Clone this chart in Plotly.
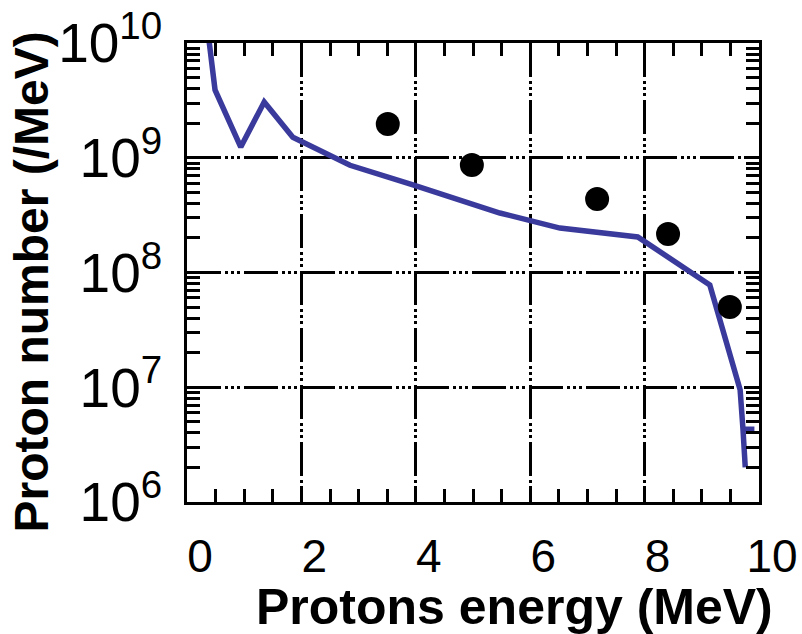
import plotly.graph_objects as go

# Simulated spectrum (blue line)
sim_energy = [0.38, 0.49, 0.94, 1.35, 1.85, 2.85, 3.95, 5.47, 6.52, 7.88, 9.14, 9.67, 9.72, 9.92, 9.72, 9.76]
sim_number = [1.1e10, 3.9e9, 1.24e9, 3.06e9, 1.51e9, 8.6e8, 5.8e8, 3.3e8, 2.44e8, 2.04e8, 7.8e7, 9.5e6, 4.3e6, 4.3e6, 4.3e6, 2.0e6]

# Measured points (black dots)
exp_energy = [3.51, 4.98, 7.17, 8.41, 9.49]
exp_number = [1.97e9, 8.65e8, 4.37e8, 2.17e8, 5.0e7]

x_range = [0, 10]
x_tick_step = 2
x_minor_step = 0.5
y_range_log = [6, 10]

x_title = "Protons energy (MeV)"
y_title = "Proton number (/MeV)"

FONT = "Liberation Sans, Arial, Helvetica, sans-serif"
DASH = "34px,4px,3px,3px,3px,3px,3px,4px"

fig = go.Figure()
fig.add_trace(go.Scatter(
    x=sim_energy, y=sim_number, mode="lines",
    line=dict(color="#3a3a9c", width=5.5),
    showlegend=False, hoverinfo="skip",
))
fig.add_trace(go.Scatter(
    x=exp_energy, y=exp_number, mode="markers",
    marker=dict(color="black", size=24, line=dict(width=0)),
    showlegend=False, hoverinfo="skip",
))

common = dict(
    showline=True, linecolor="black", linewidth=3, mirror="ticks",
    ticks="inside", ticklen=13, tickwidth=3, tickcolor="black",
    showgrid=True, gridcolor="black", gridwidth=3, griddash=DASH,
    zeroline=False, automargin=False,
)

fig.update_xaxes(
    range=x_range, tickmode="linear", tick0=0, dtick=x_tick_step,
    minor=dict(dtick=x_minor_step, tick0=0, ticks="inside", ticklen=13, tickwidth=3,
               tickcolor="black", showgrid=False),
    ticklabelshift=13, ticklabelstandoff=12,
    tickfont=dict(family=FONT, size=46, color="black"),
    **common,
)
fig.update_yaxes(
    type="log", range=y_range_log, dtick=1, exponentformat="power",
    minor=dict(dtick="D1", ticks="inside", ticklen=13, tickwidth=3,
               tickcolor="black", showgrid=False),
    ticklabelstandoff=13,
    tickfont=dict(family=FONT, size=44, color="black"),
    **common,
)

fig.add_annotation(
    text=x_title, xref="paper", yref="paper", x=0.573, y=-0.229,
    xanchor="center", yanchor="middle", showarrow=False,
    font=dict(family=FONT, size=50, color="black", weight="bold"),
)
fig.add_annotation(
    text=y_title, xref="paper", yref="paper", x=-0.272, y=0.479,
    xanchor="center", yanchor="middle", showarrow=False, textangle=-90,
    font=dict(family=FONT, size=48, color="black", weight="bold"),
)

fig.update_layout(
    width=802, height=634,
    margin=dict(l=187, r=43, t=43, b=132),
    paper_bgcolor="white", plot_bgcolor="white",
)

fig.write_html("out.html")
